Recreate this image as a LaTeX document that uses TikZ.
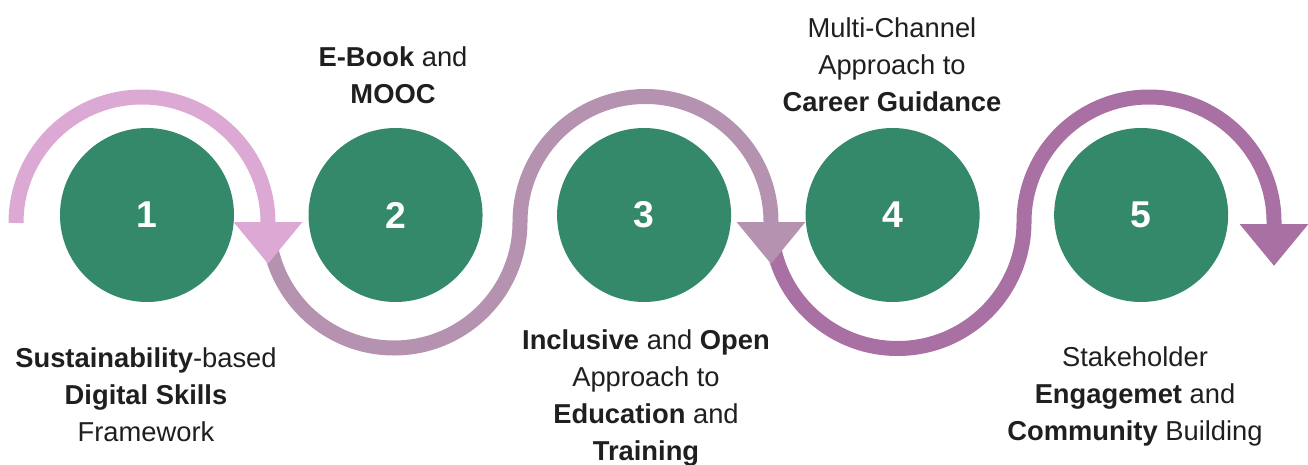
\documentclass[tikz,border=0pt]{standalone}
\usepackage{fontspec}
\setmainfont{Liberation Sans}
\usepackage{xcolor}
\usepackage{tikz}
\usetikzlibrary{arrows.meta,positioning}
\definecolor{StepGreen}{HTML}{33896A}
\definecolor{RibbonPink}{HTML}{DCA9D5}
\definecolor{RibbonMauve}{HTML}{B592B0}
\definecolor{RibbonPlum}{HTML}{A970A3}
\definecolor{CaptionInk}{HTML}{1F1F1F}

\begin{document}
\begin{tikzpicture}[
  x=0.75pt,y=0.75pt,
  stage/.style={circle,fill=StepGreen,minimum size=130.5pt,inner sep=0pt,text=white,font=\fontsize{28}{30}\selectfont\bfseries},
  caption/.style={align=center,inner sep=0pt,text=CaptionInk,font=\fontsize{20.5}{27.75}\selectfont},
  ribbon/.style={line width=11.25pt,-{Triangle[width=49.5pt,length=31.5pt]}},
  node distance=55.5pt
]
\useasboundingbox (0,0) rectangle (1308,-464);
% the five stages
\node[stage] (s1) at (147,-215) {1};
\node[stage,right=of s1] (s2) {2};
\node[stage,right=of s2] (s3) {3};
\node[stage,right=of s3] (s4) {4};
\node[stage,right=of s4] (s5) {5};
% ribbon winding round them, last piece first so each arrow head lies on top
\draw[ribbon,RibbonPlum] (771,-222) arc[start angle=180,end angle=360,radius=126.5]
  arc[start angle=180,end angle=0,radius=125] -- (1274,-266);
\draw[ribbon,RibbonMauve] (268,-222) arc[start angle=180,end angle=360,radius=126]
  arc[start angle=180,end angle=0,radius=125.5] -- (771,-264);
\draw[ribbon,RibbonPink] (16,-223) arc[start angle=180,end angle=0,radius=126] -- (268,-264);
% captions
\node[caption,anchor=north] (t1) at (146,-347) {\textbf{Sustainability}-based\\\textbf{Digital Skills}\\Framework};
\node[caption,anchor=north] (t2) at (393,-46) {\textbf{E-Book} and\\\textbf{MOOC}};
\node[caption,anchor=north] (t3) at (646,-329) {\textbf{Inclusive} and \textbf{Open}\\Approach to\\\textbf{Education} and\\\textbf{Training}};
\node[caption,anchor=north] (t4) at (892,-17) {Multi-Channel\\Approach to\\\textbf{Career Guidance}};
\node[caption,anchor=north] (t5) at (1135,-346) {Stakeholder\\\textbf{Engagemet} and\\\textbf{Community} Building};
\end{tikzpicture}
\end{document}
